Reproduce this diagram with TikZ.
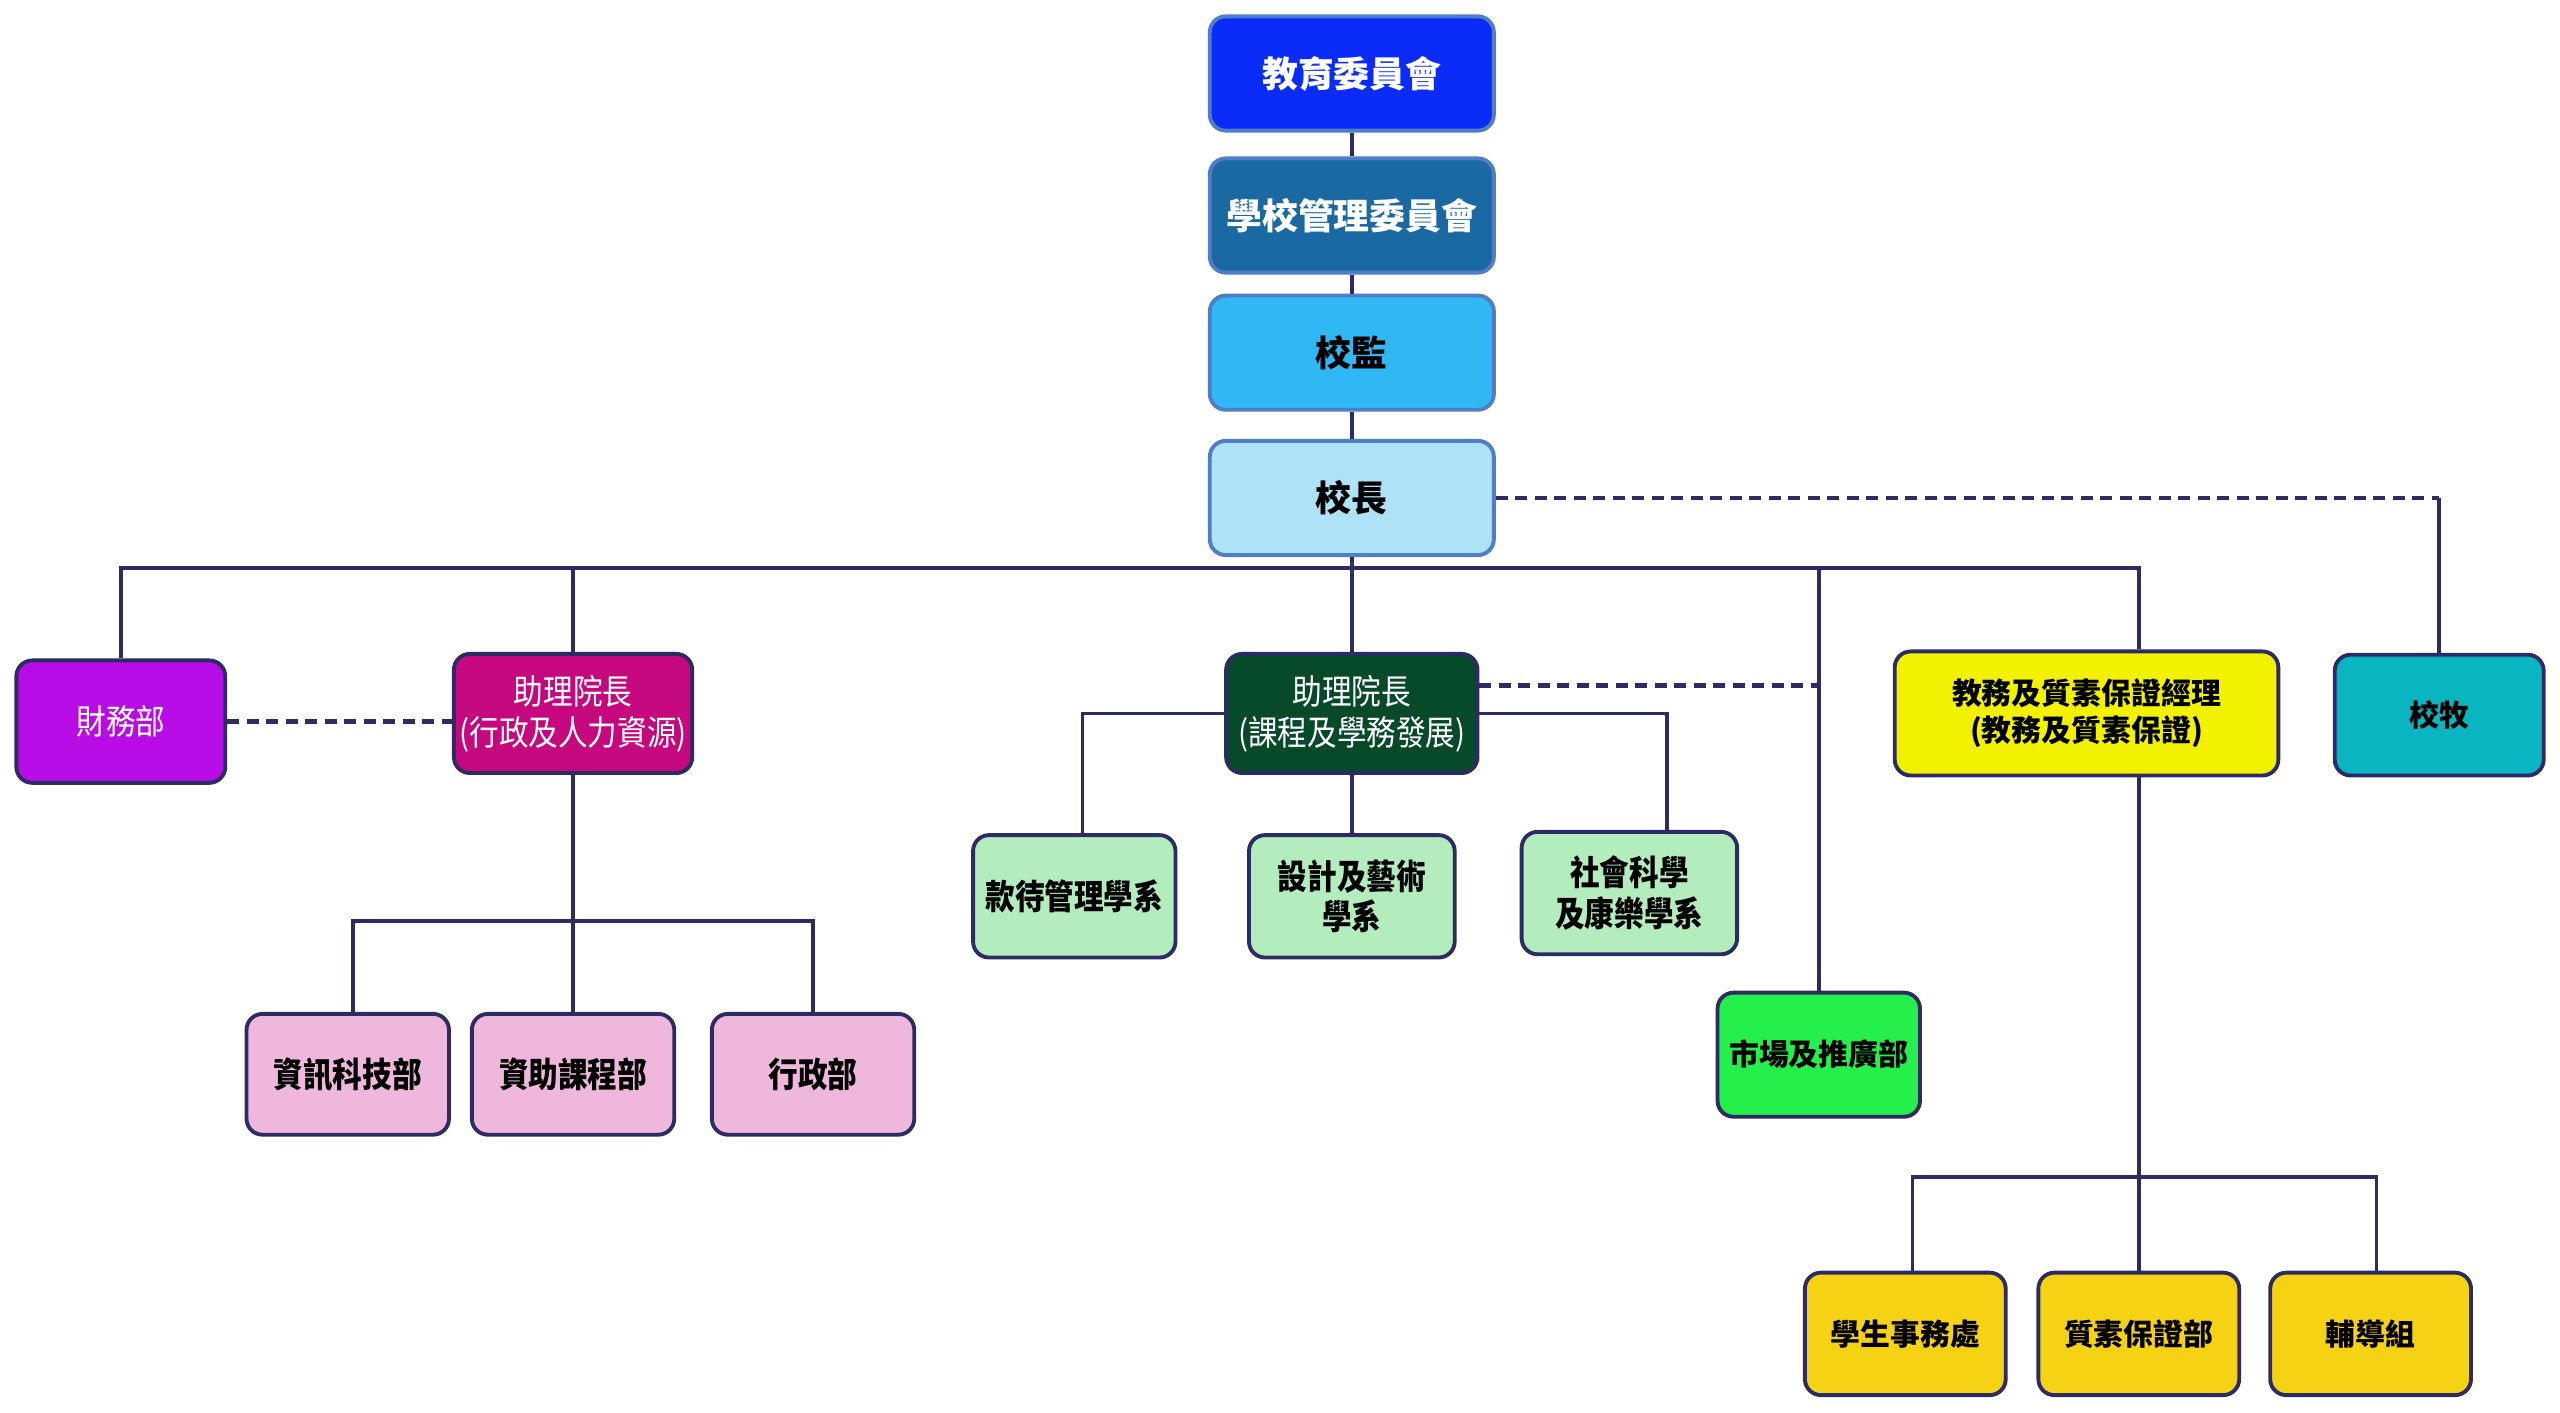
\documentclass[tikz,border=0pt]{standalone}
\usepackage{fontspec}
\newfontfamily\cjk{Noto Sans CJK TC}
\newfontfamily\cjkn{Noto Sans CJK TC}[FakeStretch=0.86]
\newcommand{\bigcjk}{\cjk\bfseries\fontsize{10.2}{12}\selectfont}
\newcommand{\midcjk}{\cjkn\fontsize{9.8}{11.6}\selectfont}
\newcommand{\widecjk}{\cjk\bfseries\fontsize{8.5}{10.6}\selectfont}
\definecolor{navy}{HTML}{2D2B63}
\definecolor{topline}{HTML}{4F7DC6}
\definecolor{boardblue}{HTML}{0A2BF8}
\definecolor{mgmtblue}{HTML}{1B69A3}
\definecolor{supblue}{HTML}{30B8F4}
\definecolor{princblue}{HTML}{AEE2F6}
\definecolor{finpurple}{HTML}{B80CE6}
\definecolor{admmag}{HTML}{C5087E}
\definecolor{admpink}{HTML}{F0B7DD}
\definecolor{acadgreen}{HTML}{064A2A}
\definecolor{deptgreen}{HTML}{B4EDBD}
\definecolor{mktgreen}{HTML}{24EF4B}
\definecolor{qayellow}{HTML}{F2F200}
\definecolor{chapteal}{HTML}{08B5C1}
\definecolor{unitgold}{HTML}{F5D314}
\tikzset{
  box/.style={draw, rounded corners=1.6mm, line width=1.1pt, align=center, inner sep=1pt},
  topbox/.style={box, draw=topline},
  unitbox/.style={box, draw=navy},
  sz/.style 2 args={minimum width=#1*0.16327mm, minimum height=#2*0.16327mm},
  link/.style={draw=navy, line width=1pt},
  dashlink/.style={draw=navy, line width=1.4pt, dash pattern=on 1.2mm off 0.75mm}
}
\begin{document}
\begin{tikzpicture}[x=0.16327mm,y=-0.16327mm]
\useasboundingbox (0,0) rectangle (1568,865.4);
% governing bodies
\node[topbox, sz={174}{70}, fill=boardblue, text=white, font=\bigcjk] (jy) at (828,45) {教育委員會};
\node[topbox, sz={174}{70}, fill=mgmtblue, text=white, font=\bigcjk] (gl) at (828,132) {學校管理委員會};
\node[topbox, sz={174}{70}, fill=supblue, font=\bigcjk] (xj) at (828,216) {校監};
\node[topbox, sz={174}{70}, fill=princblue, font=\bigcjk] (xz) at (828,305) {校長};
% second level
\node[unitbox, sz={128}{75}, fill=finpurple, text=white, font=\midcjk] (cw) at (74,442) {財務部};
\node[unitbox, sz={146}{73}, fill=admmag, text=white, font=\midcjk] (xg) at (351,437) {助理院長\\(行政及人力資源)};
\node[unitbox, sz={154}{73}, fill=acadgreen, text=white, font=\midcjk] (kc) at (828,437) {助理院長\\(課程及學務發展)};
\node[unitbox, sz={124}{76}, fill=mktgreen, font=\widecjk] (sc) at (1114,646) {市場及推廣部};
\node[unitbox, sz={235}{76}, fill=qayellow, font=\widecjk] (jw) at (1278,437) {教務及質素保證經理\\(教務及質素保證)};
\node[unitbox, sz={128}{74}, fill=chapteal, font=\widecjk] (xm) at (1494,438) {校牧};
% admin units
\node[unitbox, sz={124}{74}, fill=admpink, font=\midcjk\bfseries] (it) at (213,658) {資訊科技部};
\node[unitbox, sz={124}{74}, fill=admpink, font=\midcjk\bfseries] (zc) at (351,658) {資助課程部};
\node[unitbox, sz={124}{74}, fill=admpink, font=\midcjk\bfseries] (xzb) at (498,658) {行政部};
% academic departments
\node[unitbox, sz={124}{75}, fill=deptgreen, font=\midcjk\bfseries] (kd) at (658,549) {款待管理學系};
\node[unitbox, sz={126}{75}, fill=deptgreen, font=\midcjk\bfseries] (ks) at (828,549) {設計及藝術\\學系};
\node[unitbox, sz={132}{75}, fill=deptgreen, font=\midcjk\bfseries] (kh) at (998,547) {社會科學\\及康樂學系};
% quality units
\node[unitbox, sz={123}{75}, fill=unitgold, font=\widecjk] (ss) at (1167,817) {學生事務處};
\node[unitbox, sz={123}{75}, fill=unitgold, font=\widecjk] (qa) at (1310,817) {質素保證部};
\node[unitbox, sz={123}{75}, fill=unitgold, font=\widecjk] (fd) at (1452,817) {輔導組};
\coordinate (bus) at (828,348);
\coordinate (xgbus) at (351,564);
\coordinate (jwbus) at (1310,721);
% connectors
\draw[link] (jy.south) -- (gl.north);
\draw[link] (gl.south) -- (xj.north);
\draw[link] (xj.south) -- (xz.north);
\draw[link] (xz.south) -- (kc.north);
\draw[link] (cw.north) |- (bus) -| (jw.north -| qa.north);
\draw[link] (xg.north) -- (xg.north |- bus);
\draw[link] (sc.north) -- (sc.north |- bus);
\draw[link] (xg.south) -- (zc.north);
\draw[link] ([xshift=0.5mm]it.north) |- (xgbus) -| (xzb.north);
\draw[link] (kc.west) -| ([xshift=0.8mm]kd.north);
\draw[link] (kc.south) -- (ks.north);
\draw[link] (kc.east) -| ([xshift=3.75mm]kh.north);
\draw[link] (jw.south -| qa.north) -- (qa.north);
\draw[link] ([xshift=0.7mm]ss.north) |- (jwbus) -| ([xshift=0.6mm]fd.north);
\draw[link] (xz.east -| xm.north) -- (xm.north);
\draw[dashlink] (xz.east) -- (xz.east -| xm.north);
\draw[dashlink] (cw.east) -- (cw.east -| xg.west);
\draw[dashlink] ([yshift=2.8mm]kc.east) -- ([yshift=2.8mm]kc.east -| sc.north);
\end{tikzpicture}
\end{document}
